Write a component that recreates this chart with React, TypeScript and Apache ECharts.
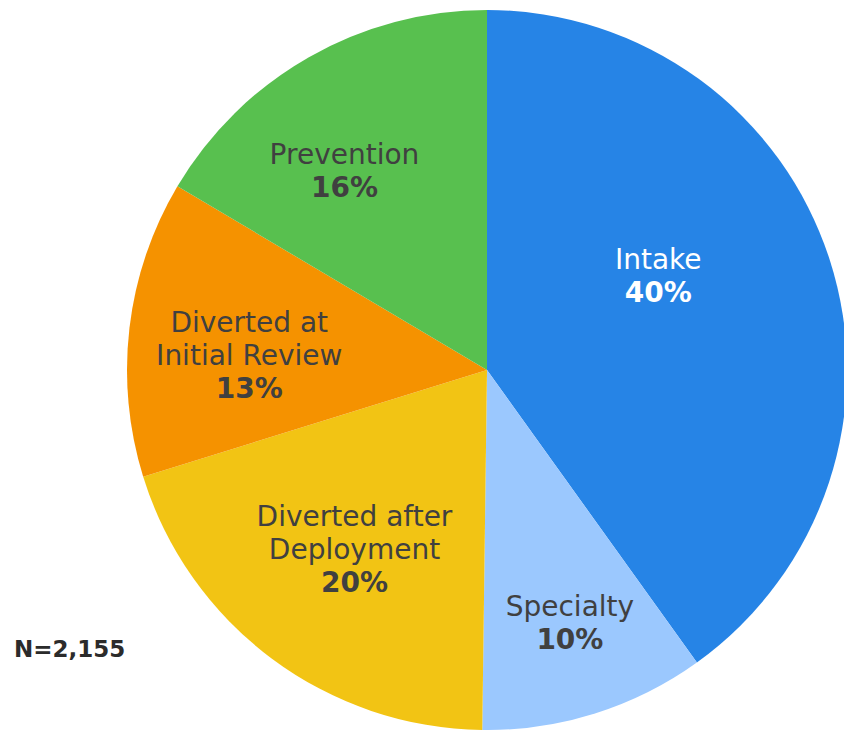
import React, { useEffect, useRef } from "react";
import * as echarts from "echarts";

const categories = [
  "Intake",
  "Specialty",
  "Diverted after\nDeployment",
  "Diverted at\nInitial Review",
  "Prevention",
];
const counts = [864, 218, 431, 287, 355];
const totalLabel = "N=2,155";

const sliceColors = ["#2684E6", "#9BC8FE", "#F2C414", "#F59200", "#58C04F"];
const labelColors = ["#FFFFFF", "#404040", "#404040", "#404040", "#404040"];
const labelOffsets: [number, number][] = [
  [-3, -38],
  [28, 78],
  [-23, 33],
  [-56, 7],
  [-52, -40],
];

const FONT = "'DejaVu Sans', sans-serif";

export default function App() {
  const ref = useRef<HTMLDivElement>(null);
  useEffect(() => {
    if (!ref.current) return;
    const chart = echarts.init(ref.current, null, { renderer: "svg" });
    const data = categories.map((name, i) => ({
      name,
      value: counts[i],
      itemStyle: { color: sliceColors[i] },
      label: {
        offset: labelOffsets[i],
        rich: {
          n: { color: labelColors[i], fontSize: 28, fontFamily: FONT, fontWeight: 400, lineHeight: 33 },
          p: { color: labelColors[i], fontSize: 28, fontFamily: FONT, fontWeight: 700, lineHeight: 33 },
        },
      },
    }));
    chart.setOption({
      animation: false,
      series: [
        {
          type: "pie",
          center: [487, 370],
          radius: [0, 360],
          startAngle: 90,
          clockwise: true,
          avoidLabelOverlap: false,
          itemStyle: { borderWidth: 0 },
          label: {
            show: true,
            position: "inside",
            align: "center",
            formatter: (p: any) =>
              p.name
                .split("\n")
                .map((l: string) => `{n|${l}}`)
                .join("\n") + `\n{p|${Math.round(p.percent)}%}`,
          },
          labelLine: { show: false },
          emphasis: { disabled: true },
          data,
        },
      ],
      graphic: [
        {
          type: "text",
          left: 14,
          top: 637,
          style: {
            text: totalLabel,
            fontSize: 23,
            fontWeight: 700,
            fontFamily: FONT,
            fill: "#2b2b2b",
          },
        },
      ],
    });
    return () => chart.dispose();
  }, []);
  return (
    <div
      ref={ref}
      style={{ position: "absolute", left: 0, top: 0, width: 844, height: 730 }}
    />
  );
}
